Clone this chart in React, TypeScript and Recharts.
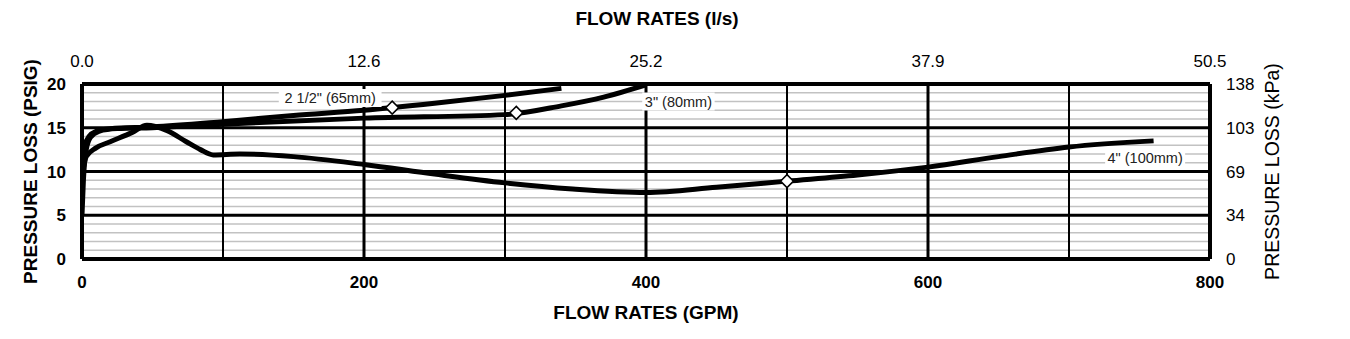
import {
  ComposedChart,
  Line,
  Scatter,
  XAxis,
  YAxis,
  ReferenceLine,
  ReferenceDot,
  Label,
} from "recharts";

// 2 1/2" (65mm)
const gpm65 = [0, 2, 5, 10, 20, 50, 100, 150, 200, 250, 300, 340];
const psi65 = [10.5, 13, 14, 14.6, 14.9, 15.1, 15.7, 16.4, 17.0, 17.8, 18.7, 19.5];

// 3" (80mm)
const gpm80 = [0, 1, 3, 6, 12, 25, 50, 100, 200, 300, 340, 370, 400];
const psi80 = [5, 9, 12.5, 13.9, 14.6, 14.9, 15.0, 15.4, 16.1, 16.5, 17.5, 18.5, 19.9];

// 4" (100mm)
const gpm100 = [0, 3, 10, 20, 36, 46, 60, 74, 84, 93, 112, 150, 200, 250, 300, 348, 400, 450, 500, 550, 600, 650, 700, 760];
const psi100 = [9.5, 11.7, 12.7, 13.4, 14.5, 15.3, 14.7, 13.4, 12.5, 11.9, 12.0, 11.7, 10.8, 9.7, 8.7, 8.0, 7.6, 8.2, 8.9, 9.6, 10.5, 11.7, 12.8, 13.5];

// diamond markers
const markGpm = [220, 308, 500];
const markPsi = [17.3, 16.7, 8.9];

// curve labels
const labelText = ['2 1/2" (65mm)', '3" (80mm)', '4" (100mm)'];
const labelGpm = [176, 423, 754];
const labelPsi = [18.4, 18.0, 11.5];

const gpmTicks = [0, 200, 400, 600, 800];
const lsTicks = ["0.0", "12.6", "25.2", "37.9", "50.5"];
const psiTicks = [0, 5, 10, 15, 20];
const kpaTicks = ["0", "34", "69", "103", "138"];
const minorPsi = [1, 2, 3, 4, 6, 7, 8, 9, 11, 12, 13, 14, 16, 17, 18, 19];
const majorPsi = [5, 10, 15];
const gridGpm = [100, 200, 300, 400, 500, 600, 700];

const toRows = (xs: number[], ys: number[]) => xs.map((x, i) => ({ gpm: x, psi: ys[i] }));

const font = "'Liberation Sans', Arial, sans-serif";

const Diamond = (p: any) => {
  const { cx, cy } = p;
  const s = 6.5;
  return (
    <path
      d={`M${cx},${cy - s}L${cx + s},${cy}L${cx},${cy + s}L${cx - s},${cy}Z`}
      fill="#fff"
      stroke="#000"
      strokeWidth={1.5}
    />
  );
};

const makeTag = (text: string) => (p: any) => {
  const { cx, cy } = p;
  const w = text.length * 7.6 + 4;
  return (
    <g>
      <rect x={cx - w / 2} y={cy - 9} width={w} height={18} fill="#fff" />
      <text x={cx} y={cy + 5} textAnchor="middle" fontSize={14.5} fontFamily={font} fill="#222">
        {text}
      </text>
    </g>
  );
};

export default function App() {
  const tickBold = { fontSize: 17, fontWeight: 700, fill: "#000", fontFamily: font };
  const tickReg = { fontSize: 17, fill: "#000", fontFamily: font };
  const titleBold = { fontSize: 19, fontWeight: 700, fill: "#000", fontFamily: font };
  return (
    <ComposedChart
      width={1334}
      height={323}
      margin={{ top: 36, right: 52, bottom: 32, left: 0 }}
    >
      <XAxis
        xAxisId="gpm"
        type="number"
        dataKey="gpm"
        domain={[0, 800]}
        ticks={gpmTicks}
        height={40}
        tickSize={0}
        tickMargin={17}
        tick={tickBold}
        axisLine={{ stroke: "#000", strokeWidth: 4 }}
        allowDataOverflow
      >
        <Label value="FLOW RATES (GPM)" position="bottom" offset={7} style={titleBold} />
      </XAxis>
      <XAxis
        xAxisId="ls"
        orientation="top"
        type="number"
        dataKey="gpm"
        domain={[0, 800]}
        ticks={gpmTicks}
        tickFormatter={(v: number) => lsTicks[gpmTicks.indexOf(v)]}
        height={40}
        tickSize={0}
        tickMargin={17}
        tick={tickReg}
        axisLine={{ stroke: "#000", strokeWidth: 4 }}
        allowDataOverflow
      >
        <Label value="FLOW RATES (l/s)" position="top" offset={19} dx={11} style={titleBold} />
      </XAxis>
      <YAxis
        yAxisId="psi"
        type="number"
        domain={[0, 20]}
        ticks={psiTicks}
        width={74}
        tickSize={0}
        tickMargin={16}
        tick={tickBold}
        axisLine={{ stroke: "#000", strokeWidth: 4 }}
        allowDataOverflow
      >
        <Label value="PRESSURE LOSS (PSIG)" angle={-90} position="insideLeft" offset={22} style={{ ...titleBold, textAnchor: "middle" }} />
      </YAxis>
      <YAxis
        yAxisId="kpa"
        orientation="right"
        type="number"
        domain={[0, 20]}
        ticks={psiTicks}
        tickFormatter={(v: number) => kpaTicks[psiTicks.indexOf(v)]}
        width={80}
        tickSize={0}
        tickMargin={16}
        tick={tickReg}
        axisLine={{ stroke: "#000", strokeWidth: 4 }}
        allowDataOverflow
      >
        <Label value="PRESSURE LOSS (kPa)" angle={-90} position="insideRight" offset={18} style={{ fontSize: 19.5, fill: "#000", fontFamily: font, textAnchor: "middle" }} />
      </YAxis>

      {minorPsi.map((v) => (
        <ReferenceLine key={"m" + v} xAxisId="gpm" yAxisId="psi" y={v} stroke="#c2c2c2" strokeWidth={1.5} />
      ))}
      {majorPsi.map((v) => (
        <ReferenceLine key={"h" + v} xAxisId="gpm" yAxisId="psi" y={v} stroke="#000" strokeWidth={3} />
      ))}
      {gridGpm.map((v) => (
        <ReferenceLine key={"v" + v} xAxisId="gpm" yAxisId="psi" x={v} stroke="#000" strokeWidth={v % 200 === 0 ? 3 : 2} />
      ))}

      <Line
        xAxisId="gpm"
        yAxisId="psi"
        data={toRows(gpm100, psi100)}
        dataKey="psi"
        type="monotone"
        stroke="#000"
        strokeWidth={5}
        dot={false}
        isAnimationActive={false}
      />
      <Line
        xAxisId="gpm"
        yAxisId="psi"
        data={toRows(gpm80, psi80)}
        dataKey="psi"
        type="monotone"
        stroke="#000"
        strokeWidth={5}
        dot={false}
        isAnimationActive={false}
      />
      <Line
        xAxisId="gpm"
        yAxisId="psi"
        data={toRows(gpm65, psi65)}
        dataKey="psi"
        type="monotone"
        stroke="#000"
        strokeWidth={5}
        dot={false}
        isAnimationActive={false}
      />
      {/* markers sit on the secondary axes (same 0-800 / 0-20 scale) so those axes get ticks */}
      <Scatter
        xAxisId="ls"
        yAxisId="kpa"
        data={toRows(markGpm, markPsi)}
        dataKey="psi"
        shape={Diamond}
        isAnimationActive={false}
      />
      {labelText.map((t, i) => (
        <ReferenceDot
          key={t}
          xAxisId="gpm"
          yAxisId="psi"
          x={labelGpm[i]}
          y={labelPsi[i]}
          r={1}
          ifOverflow="visible"
          shape={makeTag(t)}
        />
      ))}
    </ComposedChart>
  );
}
